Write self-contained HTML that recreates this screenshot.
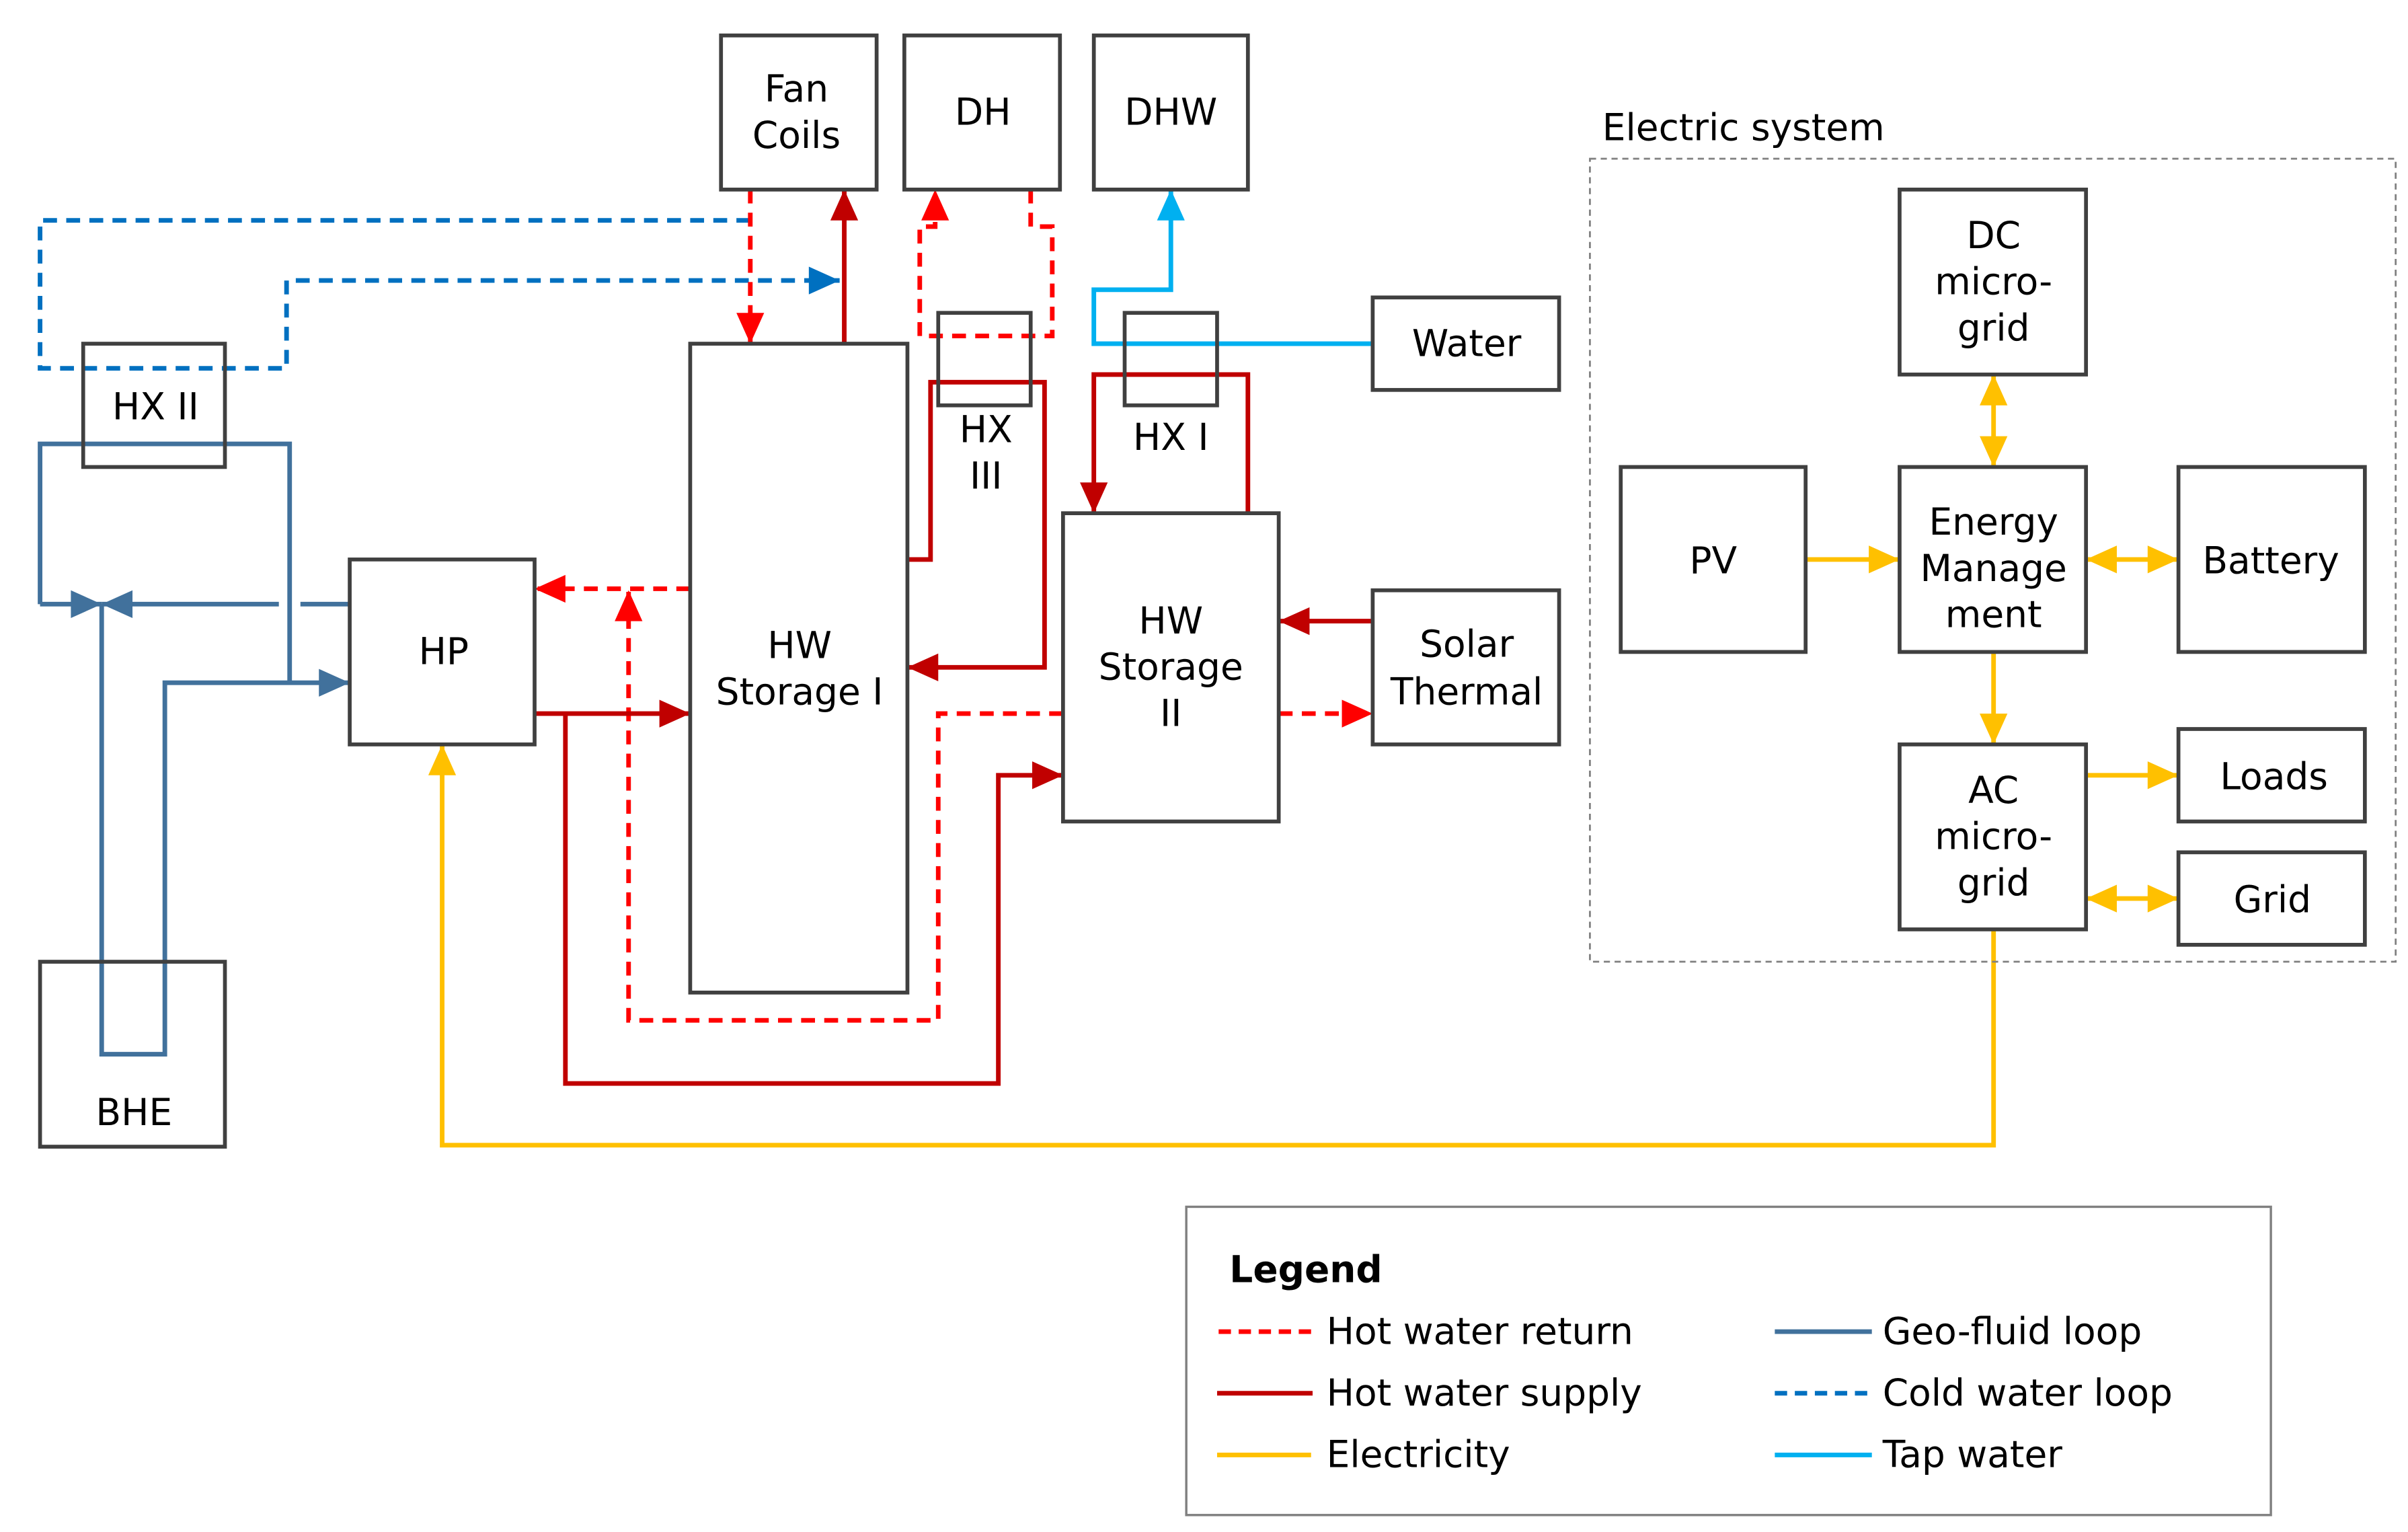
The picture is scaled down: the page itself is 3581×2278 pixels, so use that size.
<!DOCTYPE html>
<html><head><meta charset="utf-8"><style>html,body{margin:0;padding:0;background:#fff}svg{display:block}</style></head>
<body>
<svg xmlns="http://www.w3.org/2000/svg" width="3581" height="2278" viewBox="0 0 1563 994" preserveAspectRatio="none" font-family="'DejaVu Sans','Liberation Sans',sans-serif" font-size="24">
<defs>
<marker id="aR" markerUnits="userSpaceOnUse" markerWidth="24" markerHeight="24" refX="21" refY="12" orient="auto-start-reverse"><path d="M1,3 L21,12 L1,21 Z" fill="#ff0000"/></marker>
<marker id="aD" markerUnits="userSpaceOnUse" markerWidth="24" markerHeight="24" refX="21" refY="12" orient="auto-start-reverse"><path d="M1,3 L21,12 L1,21 Z" fill="#c00000"/></marker>
<marker id="aB" markerUnits="userSpaceOnUse" markerWidth="24" markerHeight="24" refX="21" refY="12" orient="auto-start-reverse"><path d="M1,3 L21,12 L1,21 Z" fill="#0070c0"/></marker>
<marker id="aG" markerUnits="userSpaceOnUse" markerWidth="24" markerHeight="24" refX="21" refY="12" orient="auto-start-reverse"><path d="M1,3 L21,12 L1,21 Z" fill="#41719c"/></marker>
<marker id="aT" markerUnits="userSpaceOnUse" markerWidth="24" markerHeight="24" refX="21" refY="12" orient="auto-start-reverse"><path d="M1,3 L21,12 L1,21 Z" fill="#00b0f0"/></marker>
<marker id="aY" markerUnits="userSpaceOnUse" markerWidth="24" markerHeight="24" refX="21" refY="12" orient="auto-start-reverse"><path d="M1,3 L21,12 L1,21 Z" fill="#ffc000"/></marker>
</defs>
<g fill="none" stroke-width="3" stroke-linejoin="miter">
<path d="M487,143 H26 V239 H186 V182 H545" stroke="#0070c0" stroke-dasharray="9,6" marker-end="url(#aB)"/>
<path d="M487,123 V223" stroke="#ff0000" stroke-dasharray="9,6" marker-end="url(#aR)"/>
<path d="M548,223 V123" stroke="#c00000" marker-end="url(#aD)"/>
<path d="M669,123 V147 H683 V218 H597 V147 H607 V123" stroke="#ff0000" stroke-dasharray="9,6" marker-end="url(#aR)"/>
<path d="M589,363 H604 V248 H678 V433 H589" stroke="#c00000" marker-end="url(#aD)"/>
<path d="M891,223 H710 V188 H760 V123" stroke="#00b0f0" marker-end="url(#aT)"/>
<path d="M810,333 V243 H710 V333" stroke="#c00000" marker-end="url(#aD)"/>
<path d="M448,382 H347" stroke="#ff0000" stroke-dasharray="9,6" marker-end="url(#aR)"/>
<path d="M690,463 H609 V662 H408 V383" stroke="#ff0000" stroke-dasharray="9,6" marker-end="url(#aR)"/>
<path d="M347,463 H448" stroke="#c00000" marker-end="url(#aD)"/>
<path d="M367,463 V703 H648 V503 H690" stroke="#c00000" marker-end="url(#aD)"/>
<path d="M891,403 H830" stroke="#c00000" marker-end="url(#aD)"/>
<path d="M830,463 H891" stroke="#ff0000" stroke-dasharray="9,6" marker-end="url(#aR)"/>
<path d="M26,392 V288 H188 V443" stroke="#41719c"/>
<path d="M26,392 H66" stroke="#41719c" marker-end="url(#aG)"/>
<path d="M181,392 H66" stroke="#41719c" marker-end="url(#aG)"/>
<path d="M195,392 H227" stroke="#41719c"/>
<path d="M66,392 V684 H107 V443 H227" stroke="#41719c" marker-end="url(#aG)"/>
<path d="M1294,603 V743 H287 V483" stroke="#ffc000" marker-end="url(#aY)"/>
<path d="M1172,363 H1233" stroke="#ffc000" marker-end="url(#aY)"/>
<path d="M1294,243 V303" stroke="#ffc000" marker-start="url(#aY)" marker-end="url(#aY)"/>
<path d="M1354,363 H1414" stroke="#ffc000" marker-start="url(#aY)" marker-end="url(#aY)"/>
<path d="M1294,423 V483" stroke="#ffc000" marker-end="url(#aY)"/>
<path d="M1354,503 H1414" stroke="#ffc000" marker-end="url(#aY)"/>
<path d="M1354,583 H1414" stroke="#ffc000" marker-start="url(#aY)" marker-end="url(#aY)"/>
</g>
<g fill="none" stroke="#404040" stroke-width="2.5">
<rect x="468" y="23" width="101" height="100"/>
<rect x="587" y="23" width="101" height="100"/>
<rect x="710" y="23" width="100" height="100"/>
<rect x="891" y="193" width="121" height="60"/>
<rect x="54" y="223" width="92" height="80"/>
<rect x="227" y="363" width="120" height="120"/>
<rect x="448" y="223" width="141" height="421"/>
<rect x="609" y="203" width="60" height="60"/>
<rect x="730" y="203" width="60" height="60"/>
<rect x="690" y="333" width="140" height="200"/>
<rect x="891" y="383" width="121" height="100"/>
<rect x="26" y="624" width="120" height="120"/>
<rect x="1233" y="123" width="121" height="120"/>
<rect x="1052" y="303" width="120" height="120"/>
<rect x="1233" y="303" width="121" height="120"/>
<rect x="1414" y="303" width="121" height="120"/>
<rect x="1233" y="483" width="121" height="120"/>
<rect x="1414" y="473" width="121" height="60"/>
<rect x="1414" y="553" width="121" height="60"/>
</g>
<rect x="1032" y="103" width="523" height="521" fill="none" stroke="#808080" stroke-width="1.2" stroke-dasharray="4,3"/>
<rect x="770" y="783" width="704" height="200" fill="none" stroke="#808080" stroke-width="1.5"/>
<g fill="#000" text-anchor="middle">
<text x="517" y="66">Fan</text><text x="517" y="96">Coils</text>
<text x="638" y="81">DH</text>
<text x="760" y="81">DHW</text>
<text x="952" y="231">Water</text>
<text x="101" y="272">HX II</text>
<text x="288" y="431">HP</text>
<text x="519" y="427">HW</text><text x="519" y="457">Storage I</text>
<text x="640" y="287">HX</text><text x="640" y="317">III</text>
<text x="760" y="292">HX I</text>
<text x="760" y="411">HW</text><text x="760" y="441">Storage</text><text x="760" y="471">II</text>
<text x="952" y="426">Solar</text><text x="952" y="457">Thermal</text>
<text x="87" y="730">BHE</text>
<text x="1294" y="161">DC</text><text x="1294" y="191">micro-</text><text x="1294" y="221">grid</text>
<text x="1112" y="372">PV</text>
<text x="1294" y="347">Energy</text><text x="1294" y="377">Manage</text><text x="1294" y="407">ment</text>
<text x="1474" y="372">Battery</text>
<text x="1294" y="521">AC</text><text x="1294" y="551">micro-</text><text x="1294" y="581">grid</text>
<text x="1476" y="512">Loads</text>
<text x="1475" y="592">Grid</text>
</g>
<text x="1040" y="91" fill="#000">Electric system</text>
<text x="798" y="832" font-weight="bold" fill="#000">Legend</text>
<g fill="#000">
<text x="861" y="872">Hot water return</text>
<text x="861" y="912">Hot water supply</text>
<text x="861" y="952">Electricity</text>
<text x="1222" y="872">Geo-fluid loop</text>
<text x="1222" y="912">Cold water loop</text>
<text x="1222" y="952">Tap water</text>
</g>
<g stroke-width="3">
<line x1="791" y1="864" x2="855" y2="864" stroke="#ff0000" stroke-dasharray="8,5"/>
<line x1="790" y1="904" x2="852" y2="904" stroke="#c00000"/>
<line x1="790" y1="944" x2="851" y2="944" stroke="#ffc000"/>
<line x1="1152" y1="864" x2="1215" y2="864" stroke="#41719c"/>
<line x1="1152" y1="904" x2="1216" y2="904" stroke="#0070c0" stroke-dasharray="8,5"/>
<line x1="1152" y1="944" x2="1215" y2="944" stroke="#00b0f0"/>
</g>
</svg>
</body></html>
